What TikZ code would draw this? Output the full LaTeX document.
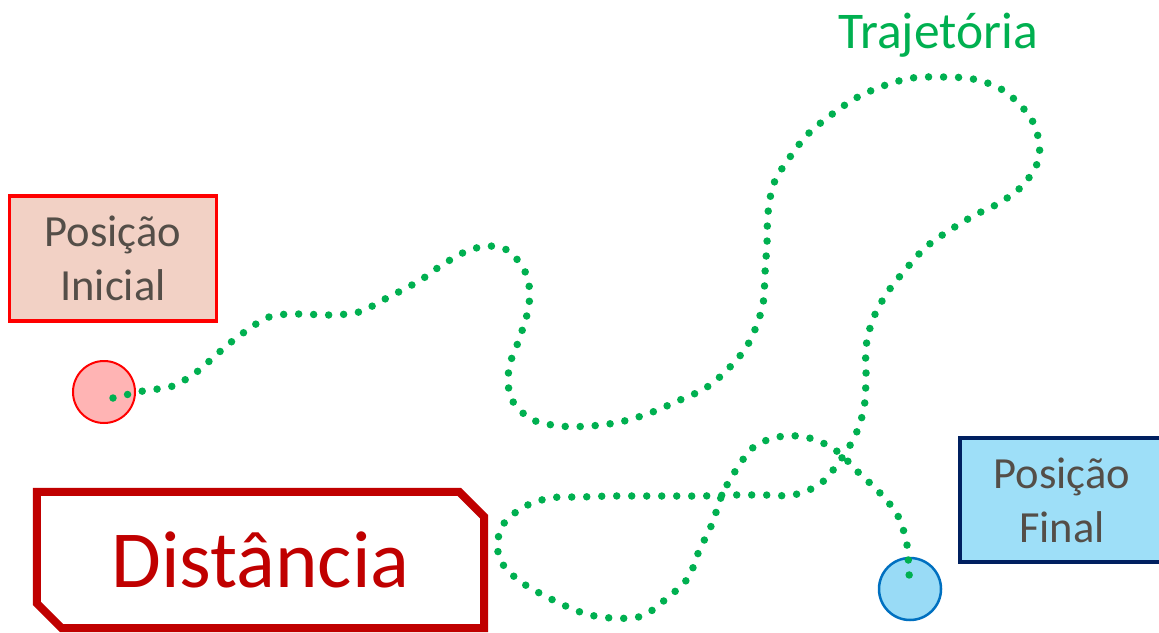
\documentclass[tikz,border=0pt]{standalone}
\usepackage{fontspec}
\setmainfont{Carlito}
\usepackage{tikz}
\definecolor{verde}{HTML}{00B050}
\definecolor{vermelho}{HTML}{FF0000}
\definecolor{rosa}{HTML}{F2D1C5}
\definecolor{rosacirc}{HTML}{FFB4B4}
\definecolor{bordo}{HTML}{C00000}
\definecolor{azul}{HTML}{9EDFF8}
\definecolor{azulcirc}{HTML}{99DBF6}
\definecolor{marinho}{HTML}{002060}
\definecolor{azulborda}{HTML}{0070C0}
\definecolor{cinza}{HTML}{544E48}
\tikzset{
	caixa/.style={rectangle, line width=3.5, text=cinza, align=center,
		font=\fontsize{44.5}{54}\selectfont, inner sep=0},
	ponto/.style={circle, minimum size=62, inner sep=0},
	trajeto/.style={verde, line width=7.5, line cap=round, dash pattern=on 0pt off 15pt}
}
\begin{document}
\begin{tikzpicture}[x=1pt, y=-1pt]
		\useasboundingbox (0,0) rectangle (1159,632);
		\node[caixa, draw=vermelho, fill=rosa, minimum width=207, minimum height=125](inicial) at (113,258.5){Posição\\Inicial};
		\node[caixa, draw=marinho, fill=azul, line width=4.5, minimum width=204, minimum height=124](final) at (1062,500){Posição\\Final};
		\node[ponto, draw=vermelho, fill=rosacirc, line width=2](pi) at (104,392){};
		\node[ponto, draw=azulborda, fill=azulcirc, line width=2.5](pf) at (910,589){};
		\node[text=verde, font=\fontsize{51.5}{60}\selectfont, inner sep=0](traj) at (938,35){Trajetória};
		\node[text=bordo, font=\fontsize{81}{96}\selectfont, minimum width=447, minimum height=136, inner sep=0](dist) at (260.5,560){Distância};
		\draw[bordo, line width=8, line join=miter](dist.north west)--([xshift=-25]dist.north east)--([yshift=-25]dist.north east)
			--(dist.south east)--([xshift=25]dist.south west)--([yshift=25]dist.south west)--cycle;
		\coordinate (ini) at (113,398);
		\coordinate (fim) at (912,586);
		\draw[trajeto] plot[smooth, tension=0.55] coordinates {(ini) (143,391) (173,386) (198,371) (216,355) (239,336)
			(269,317) (299,314) (329,315) (359,312) (385,299) (419,281) (442,265) (467,251) (490,246) (510,252)
			(527,276) (529,305) (520,337) (509,368) (511,398) (531,419) (560,426) (590,426) (620,422) (650,413)
			(680,400) (704,389) (723,374) (743,352) (754,332) (763,304) (765,273) (767,243) (768,213) (774,183)
			(790,157) (808,134) (831,115) (856,98) (883,86) (912,78) (943,77) (973,79) (1001,89) (1023,108)
			(1036,129) (1039,158) (1024,184) (1001,202) (975,215) (950,230) (926,247) (906,269) (887,293)
			(873,319) (866,347) (866,377) (864,408) (855,436) (839,462) (820,484) (793,495) (764,495) (733,495)
			(702,496) (671,496) (641,496) (611,496) (581,497) (550,498) (522,508) (501,528) (499,557) (517,579)
			(547,597) (583,613) (612,618) (642,616) (666,599) (688,578) (699,551) (712,524) (722,495) (736,470)
			(755,446) (784,436) (813,439) (838,452) (858,472) (880,493) (898,516) (907,545) (909,574) (fim)};
	\end{tikzpicture}
\end{document}
